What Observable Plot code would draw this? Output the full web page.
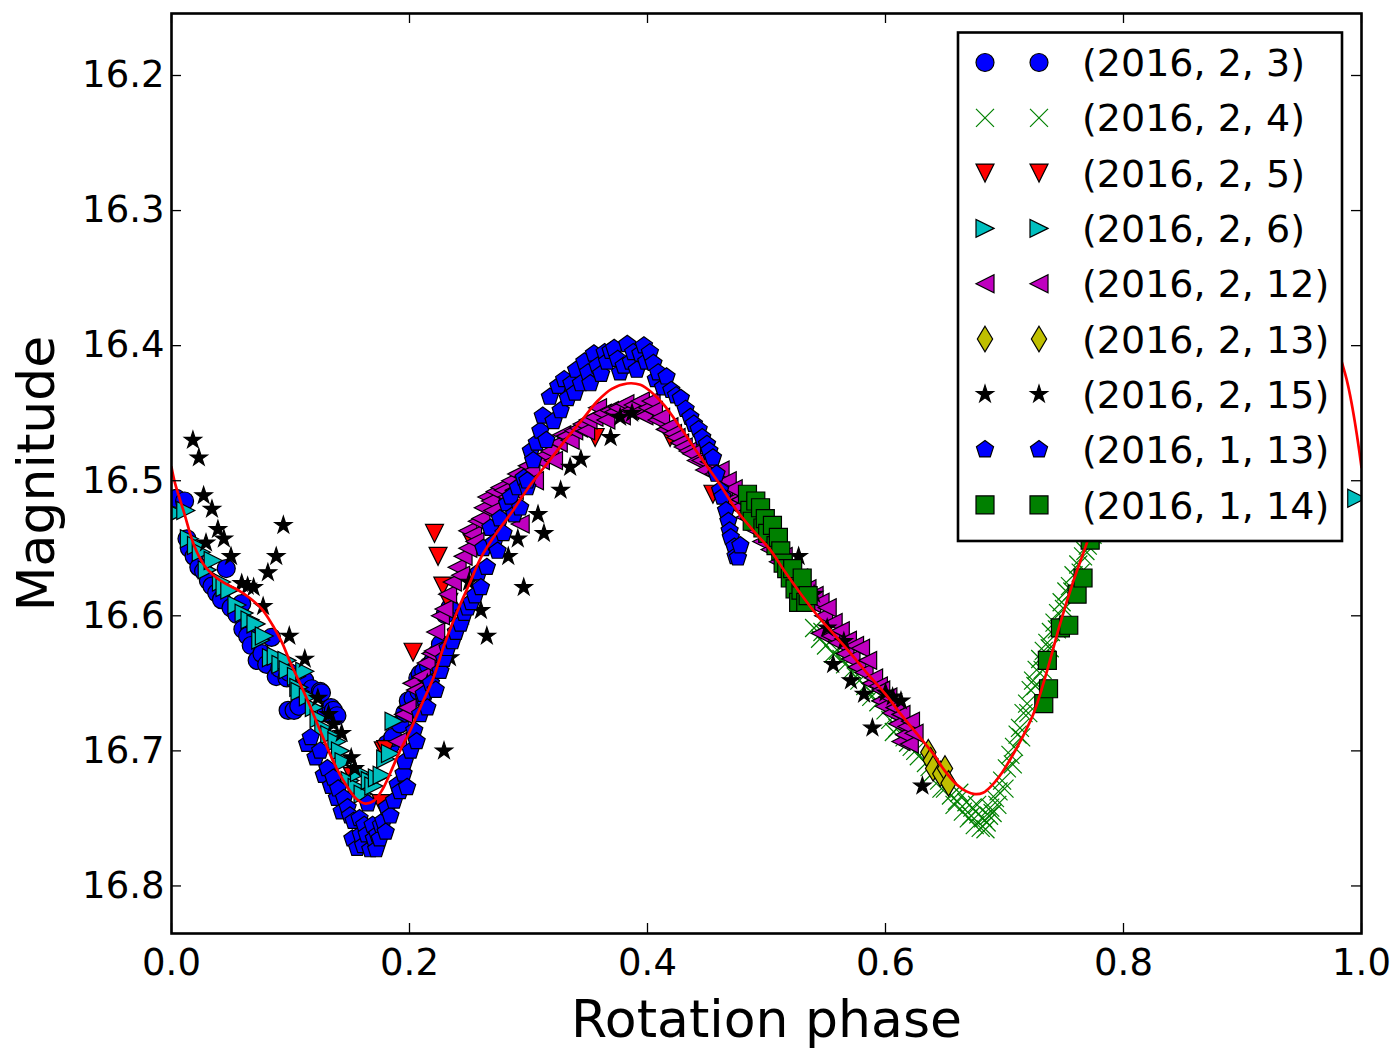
<!DOCTYPE html>
<html>
<head>
<meta charset="utf-8">
<script src="https://cdn.jsdelivr.net/npm/d3@7"></script>
<script src="https://cdn.jsdelivr.net/npm/@observablehq/plot@0.6"></script>
<style>
  html, body { margin: 0; padding: 0; background: white; }
  #chart { width: 1400px; height: 1049px; overflow: hidden; }
</style>
</head>
<body>
<div id="chart"></div>
<script>
// ---------------- data ----------------
const phaseTicks = [0.0, 0.2, 0.4, 0.6, 0.8, 1.0];
const magTicks = [16.2, 16.3, 16.4, 16.5, 16.6, 16.7, 16.8];
const xLabel = "Rotation phase";
const yLabel = "Magnitude";

const seriesLabels = ["(2016, 2, 3)", "(2016, 2, 4)", "(2016, 2, 5)", "(2016, 2, 6)", "(2016, 2, 12)",
  "(2016, 2, 13)", "(2016, 2, 15)", "(2016, 1, 13)", "(2016, 1, 14)"];

// (2016, 2, 3) blue circles  [phase, magnitude]
const feb03 = [[0.004,16.513],[0.011,16.515],[0.013,16.543],[0.015,16.550],[0.019,16.556],[0.023,16.564],[0.027,16.567],
  [0.031,16.574],[0.034,16.578],[0.038,16.583],[0.042,16.588],[0.046,16.565],[0.050,16.594],[0.055,16.599],[0.059,16.591],
  [0.060,16.610],[0.064,16.615],[0.067,16.622],[0.072,16.633],[0.076,16.628],[0.080,16.636],[0.084,16.616],[0.088,16.645],
  [0.091,16.639],[0.097,16.646],[0.099,16.642],[0.098,16.670],[0.103,16.670],[0.107,16.667],[0.112,16.648],[0.118,16.654],
  [0.125,16.656],[0.126,16.657],[0.130,16.672],[0.134,16.668],[0.136,16.670],[0.139,16.674],[0.181,16.695],[0.184,16.696],
  [0.186,16.690],[0.192,16.680],[0.196,16.672],[0.199,16.663],[0.203,16.661],[0.207,16.646],[0.208,16.656],[0.209,16.643],
  [0.212,16.641],[0.216,16.637],[0.220,16.633],[0.223,16.628],[0.226,16.621],[0.230,16.599],[0.234,16.594]];

// (2016, 2, 4) green crosses
const feb04 = [[0.540,16.609],[0.545,16.617],[0.547,16.612],[0.550,16.622],[0.556,16.628],[0.560,16.626],[0.563,16.632],
  [0.566,16.636],[0.572,16.640],[0.575,16.645],[0.578,16.648],[0.583,16.652],[0.588,16.660],[0.591,16.655],[0.594,16.664],
  [0.600,16.670],[0.604,16.677],[0.607,16.686],[0.610,16.683],[0.616,16.690],[0.619,16.694],[0.622,16.697],[0.625,16.700],
  [0.628,16.704],[0.634,16.709],[0.637,16.712],[0.640,16.716],[0.645,16.722],[0.647,16.728],[0.650,16.728],[0.655,16.733],
  [0.658,16.740],[0.660,16.737],[0.662,16.731],[0.665,16.745],[0.668,16.738],[0.670,16.750],[0.672,16.748],[0.673,16.742],
  [0.675,16.755],[0.677,16.740],[0.678,16.747],[0.680,16.757],[0.682,16.750],[0.684,16.758],[0.685,16.753],[0.687,16.748],
  [0.688,16.742],[0.690,16.746],[0.692,16.735],[0.694,16.740],[0.695,16.730],[0.698,16.722],[0.700,16.728],[0.702,16.713],
  [0.705,16.703],[0.707,16.710],[0.708,16.697],[0.711,16.688],[0.713,16.683],[0.714,16.690],[0.716,16.672],[0.719,16.665],
  [0.720,16.672],[0.722,16.655],[0.724,16.648],[0.726,16.652],[0.727,16.640],[0.730,16.632],[0.732,16.640],[0.733,16.626],
  [0.736,16.620],[0.738,16.624],[0.739,16.612],[0.742,16.605],[0.744,16.610],[0.745,16.598],[0.748,16.590],[0.750,16.595],
  [0.752,16.582],[0.755,16.578],[0.757,16.582],[0.758,16.570],[0.762,16.562],[0.764,16.568],[0.766,16.556],[0.768,16.552],
  [0.770,16.548],[0.774,16.540]];

// (2016, 2, 5) red down triangles
const feb05 = [[0.221,16.539],[0.224,16.556],[0.228,16.578],[0.233,16.590],[0.251,16.543],[0.203,16.627],
  [0.152,16.719],[0.176,16.739],[0.178,16.700],[0.180,16.699],[0.356,16.468],[0.419,16.468],[0.455,16.510]];

// (2016, 2, 6) cyan right triangles
const feb06 = [[0.004,16.524],[0.012,16.522],[0.015,16.543],[0.021,16.548],[0.025,16.553],[0.030,16.566],[0.035,16.559],
  [0.042,16.575],[0.045,16.579],[0.049,16.581],[0.055,16.592],[0.061,16.598],[0.066,16.603],[0.071,16.606],[0.075,16.618],
  [0.078,16.615],[0.084,16.631],[0.088,16.630],[0.092,16.636],[0.097,16.633],[0.098,16.640],[0.105,16.645],[0.107,16.653],
  [0.108,16.656],[0.112,16.641],[0.115,16.660],[0.120,16.668],[0.124,16.676],[0.128,16.683],[0.133,16.688],[0.139,16.693],
  [0.142,16.700],[0.145,16.708],[0.150,16.722],[0.156,16.727],[0.158,16.716],[0.161,16.732],[0.167,16.722],[0.170,16.726],
  [0.173,16.720],[0.177,16.718],[0.180,16.706],[0.184,16.702],[0.187,16.678],[0.996,16.513]];

// (2016, 2, 12) magenta left triangles
const feb12 = [[0.190,16.693],[0.195,16.673],[0.198,16.668],[0.202,16.650],[0.205,16.655],[0.210,16.645],[0.214,16.635],
  [0.218,16.628],[0.220,16.626],[0.222,16.612],[0.226,16.600],[0.229,16.595],[0.232,16.584],[0.236,16.575],[0.240,16.564],
  [0.243,16.570],[0.245,16.556],[0.249,16.550],[0.249,16.537],[0.253,16.540],[0.255,16.545],[0.257,16.530],[0.260,16.528],
  [0.262,16.520],[0.265,16.512],[0.268,16.515],[0.270,16.522],[0.272,16.508],[0.276,16.505],[0.279,16.507],[0.282,16.512],
  [0.285,16.500],[0.288,16.507],[0.290,16.495],[0.293,16.532],[0.296,16.497],[0.299,16.489],[0.302,16.493],[0.305,16.500],
  [0.310,16.485],[0.314,16.481],[0.318,16.478],[0.321,16.485],[0.325,16.472],[0.328,16.466],[0.331,16.467],[0.335,16.470],
  [0.338,16.463],[0.342,16.461],[0.345,16.458],[0.348,16.463],[0.350,16.455],[0.355,16.453],[0.358,16.446],[0.362,16.450],
  [0.365,16.455],[0.368,16.448],[0.372,16.449],[0.375,16.446],[0.378,16.452],[0.381,16.443],[0.385,16.448],[0.388,16.444],
  [0.392,16.449],[0.394,16.441],[0.397,16.452],[0.400,16.446],[0.403,16.441],[0.405,16.448],[0.408,16.455],[0.411,16.453],
  [0.415,16.462],[0.418,16.460],[0.421,16.465],[0.424,16.468],[0.427,16.472],[0.430,16.475],[0.434,16.478],[0.437,16.480],
  [0.441,16.485],[0.445,16.485],[0.448,16.492],[0.452,16.486],[0.456,16.495],[0.461,16.492],[0.464,16.505],[0.467,16.500],
  [0.470,16.515],[0.472,16.506],[0.476,16.520],[0.478,16.514],[0.482,16.527],[0.485,16.522],[0.489,16.536],[0.492,16.530],
  [0.496,16.545],[0.500,16.540],[0.503,16.551],[0.507,16.548],[0.510,16.560],[0.514,16.556],[0.517,16.566],[0.520,16.565],
  [0.524,16.578],[0.527,16.572],[0.531,16.585],[0.534,16.580],[0.538,16.591],[0.540,16.585],[0.545,16.590],[0.548,16.600],
  [0.551,16.594],[0.545,16.613],[0.554,16.615],[0.556,16.605],[0.560,16.620],[0.562,16.611],[0.566,16.628],[0.568,16.618],
  [0.571,16.632],[0.574,16.622],[0.576,16.638],[0.579,16.624],[0.582,16.642],[0.585,16.633],[0.588,16.650],[0.590,16.646],
  [0.594,16.652],[0.596,16.655],[0.596,16.663],[0.599,16.667],[0.602,16.660],[0.605,16.672],[0.608,16.668],[0.610,16.680],
  [0.613,16.673],[0.613,16.693],[0.616,16.688],[0.618,16.682],[0.620,16.695],[0.621,16.678],[0.624,16.687]];

// (2016, 2, 13) yellow thin diamonds
const feb13 = [[0.636,16.701],[0.638,16.707],[0.640,16.713],[0.646,16.717],[0.650,16.713],[0.653,16.724]];

// (2016, 2, 15) black stars
const feb15 = [[0.018,16.470],[0.023,16.483],[0.027,16.511],[0.034,16.521],[0.039,16.536],[0.044,16.543],
  [0.029,16.546],[0.050,16.556],[0.094,16.533],[0.088,16.556],[0.081,16.568],[0.059,16.576],[0.064,16.578],
  [0.069,16.579],[0.077,16.593],[0.099,16.615],[0.112,16.632],[0.123,16.661],[0.132,16.673],[0.136,16.680],
  [0.143,16.687],[0.151,16.705],[0.154,16.713],[0.229,16.700],[0.215,16.650],[0.234,16.631],[0.245,16.600],
  [0.250,16.575],[0.260,16.596],[0.265,16.615],[0.283,16.556],[0.291,16.543],[0.296,16.579],[0.308,16.525],
  [0.313,16.539],[0.327,16.507],[0.335,16.490],[0.344,16.484],[0.369,16.468],[0.377,16.453],[0.387,16.450],
  [0.527,16.556],[0.540,16.584],[0.551,16.609],[0.556,16.636],[0.565,16.619],[0.571,16.648],[0.582,16.658],
  [0.589,16.683],[0.600,16.657],[0.606,16.660],[0.613,16.663],[0.631,16.726]];

// (2016, 1, 13) blue pentagons
const jan13 = [[0.114,16.695],[0.117,16.690],[0.121,16.705],[0.125,16.700],[0.128,16.718],[0.131,16.713],[0.134,16.726],
  [0.136,16.720],[0.139,16.735],[0.140,16.728],[0.143,16.745],[0.145,16.735],[0.148,16.742],[0.150,16.748],[0.152,16.765],
  [0.153,16.752],[0.156,16.772],[0.158,16.750],[0.159,16.762],[0.161,16.770],[0.162,16.755],[0.164,16.762],[0.165,16.739],
  [0.167,16.773],[0.169,16.755],[0.170,16.765],[0.172,16.773],[0.173,16.762],[0.175,16.765],[0.176,16.755],[0.178,16.752],
  [0.180,16.760],[0.181,16.742],[0.184,16.748],[0.187,16.737],[0.190,16.725],[0.192,16.730],[0.195,16.717],[0.196,16.708],
  [0.198,16.727],[0.201,16.700],[0.204,16.685],[0.206,16.693],[0.209,16.673],[0.212,16.661],[0.212,16.658],[0.215,16.668],
  [0.218,16.650],[0.222,16.655],[0.226,16.641],[0.229,16.632],[0.232,16.624],[0.236,16.619],[0.239,16.612],[0.243,16.606],
  [0.246,16.598],[0.249,16.594],[0.252,16.590],[0.255,16.585],[0.258,16.568],[0.260,16.579],[0.262,16.550],[0.265,16.564],
  [0.268,16.535],[0.271,16.546],[0.274,16.552],[0.276,16.528],[0.279,16.539],[0.282,16.517],[0.285,16.512],[0.288,16.525],
  [0.291,16.505],[0.293,16.520],[0.296,16.498],[0.299,16.505],[0.299,16.500],[0.302,16.478],[0.304,16.485],[0.307,16.472],
  [0.310,16.463],[0.312,16.452],[0.315,16.470],[0.318,16.438],[0.321,16.456],[0.325,16.430],[0.327,16.448],[0.330,16.425],
  [0.333,16.439],[0.336,16.428],[0.339,16.435],[0.340,16.418],[0.344,16.428],[0.347,16.412],[0.350,16.420],[0.352,16.428],
  [0.355,16.406],[0.358,16.415],[0.361,16.421],[0.364,16.405],[0.366,16.412],[0.369,16.404],[0.372,16.402],[0.375,16.410],
  [0.377,16.420],[0.380,16.415],[0.383,16.399],[0.386,16.412],[0.388,16.405],[0.391,16.418],[0.394,16.406],[0.397,16.400],
  [0.399,16.412],[0.402,16.405],[0.405,16.413],[0.407,16.425],[0.409,16.420],[0.413,16.431],[0.416,16.423],[0.420,16.433],
  [0.424,16.437],[0.428,16.439],[0.432,16.447],[0.436,16.453],[0.439,16.458],[0.443,16.462],[0.446,16.468],[0.450,16.473],
  [0.452,16.478],[0.455,16.483],[0.458,16.495],[0.461,16.507],[0.463,16.512],[0.466,16.522],[0.468,16.530],[0.469,16.537],
  [0.470,16.542],[0.473,16.549],[0.474,16.556],[0.476,16.557],[0.478,16.548]];

// (2016, 1, 14) green squares
const jan14 = [[0.484,16.510],[0.486,16.522],[0.488,16.530],[0.491,16.515],[0.495,16.520],[0.497,16.535],[0.499,16.528],
  [0.501,16.539],[0.505,16.533],[0.508,16.548],[0.510,16.542],[0.512,16.552],[0.514,16.561],[0.517,16.565],[0.520,16.572],
  [0.522,16.565],[0.524,16.580],[0.527,16.590],[0.529,16.581],[0.530,16.572],[0.533,16.590],[0.535,16.585],[0.733,16.665],
  [0.736,16.633],[0.737,16.654],[0.747,16.609],[0.754,16.607],[0.761,16.584],[0.766,16.572],[0.772,16.544]];

// Fourier fit (red line) [phase, magnitude]
const fitCurve = [[0.000,16.490],[0.003,16.502],[0.010,16.522],[0.019,16.548],[0.027,16.562],[0.034,16.569],
  [0.045,16.576],[0.056,16.581],[0.066,16.587],[0.076,16.595],[0.085,16.607],[0.093,16.620],[0.100,16.635],
  [0.108,16.650],[0.116,16.666],[0.124,16.683],[0.132,16.700],[0.140,16.715],[0.148,16.727],[0.156,16.736],
  [0.163,16.739],[0.170,16.737],[0.177,16.729],[0.184,16.716],[0.192,16.700],[0.200,16.686],[0.210,16.666],
  [0.220,16.646],[0.229,16.622],[0.240,16.597],[0.250,16.577],[0.260,16.557],[0.272,16.540],[0.287,16.522],
  [0.300,16.505],[0.315,16.488],[0.330,16.471],[0.345,16.455],[0.358,16.441],[0.370,16.432],[0.383,16.428],
  [0.394,16.429],[0.404,16.435],[0.414,16.444],[0.428,16.461],[0.445,16.483],[0.461,16.503],[0.475,16.522],
  [0.490,16.538],[0.503,16.551],[0.516,16.568],[0.529,16.584],[0.543,16.600],[0.556,16.613],[0.570,16.627],
  [0.585,16.643],[0.600,16.658],[0.613,16.673],[0.627,16.688],[0.640,16.702],[0.650,16.715],[0.660,16.725],
  [0.668,16.730],[0.675,16.732],[0.682,16.731],[0.690,16.725],[0.698,16.716],[0.705,16.706],[0.715,16.690],
  [0.725,16.671],[0.736,16.640],[0.747,16.605],[0.758,16.574],[0.770,16.544],[0.780,16.515],[0.800,16.470],
  [0.830,16.420],[0.860,16.385],[0.900,16.365],[0.940,16.365],[0.970,16.385],[0.986,16.420],[1.000,16.490]];

// ---------------- marker shapes (matplotlib-like) ----------------
const mk = fn => ({draw(ctx, size) { const h = Math.sqrt(size / Math.PI); fn(ctx, h); }});
const poly = (ctx, pts) => { pts.forEach(([a, b], i) => i ? ctx.lineTo(a, b) : ctx.moveTo(a, b)); ctx.closePath(); };
const symCircle = mk((c, h) => { c.moveTo(h, 0); c.arc(0, 0, h, 0, 2 * Math.PI); c.closePath(); });
const symX = mk((c, h) => { c.moveTo(-h, -h); c.lineTo(h, h); c.moveTo(-h, h); c.lineTo(h, -h); });
const symTriDown = mk((c, h) => poly(c, [[0, h], [-h, -h], [h, -h]]));
const symTriRight = mk((c, h) => poly(c, [[h, 0], [-h, -h], [-h, h]]));
const symTriLeft = mk((c, h) => poly(c, [[-h, 0], [h, -h], [h, h]]));
const symThinDiamond = mk((c, h) => { const d = h * Math.SQRT2; poly(c, [[0, -d], [0.6 * d, 0], [0, d], [-0.6 * d, 0]]); });
const symStar = mk((c, h) => poly(c, d3.range(10).map(k => { const r = k % 2 ? 0.381966 * h : h, a = -Math.PI / 2 + k * Math.PI / 5; return [r * Math.cos(a), r * Math.sin(a)]; })));
const symPentagon = mk((c, h) => poly(c, d3.range(5).map(k => { const a = -Math.PI / 2 + k * 2 * Math.PI / 5; return [h * Math.cos(a), h * Math.sin(a)]; })));
const symSquare = mk((c, h) => poly(c, [[-h, -h], [h, -h], [h, h], [-h, h]]));

const seriesData = [feb03, feb04, feb05, feb06, feb12, feb13, feb15, jan13, jan14];
const seriesSymbols = [symCircle, symX, symTriDown, symTriRight, symTriLeft, symThinDiamond, symStar, symPentagon, symSquare];
const seriesFills = ["#0000ff", "none", "#ff0000", "#00bfbf", "#bf00bf", "#bfbf00", "#000000", "#0000ff", "#008000"];
const seriesStrokes = ["#000", "#008000", "#000", "#000", "#000", "#000", "#000", "#000", "#000"];

const R = 9;
const toRows = arr => arr.map(([phase, mag]) => ({phase, mag}));

const dotMarks = seriesData.map((arr, i) => Plot.dot(toRows(arr), {
  x: "phase", y: "mag", symbol: seriesSymbols[i], r: R,
  fill: seriesFills[i], stroke: seriesStrokes[i], strokeWidth: 1.2, clip: true
}));

const plot = Plot.plot({
  width: 1400, height: 1049,
  marginLeft: 171, marginRight: 39, marginTop: 13, marginBottom: 116,
  style: {fontFamily: "'DejaVu Sans', sans-serif", fontSize: "37px", background: "white", color: "black"},
  x: {domain: [0, 1]},
  y: {domain: [16.1541, 16.8352], reverse: true},
  marks: [
    ...dotMarks,
    Plot.line(toRows(fitCurve), {x: "phase", y: "mag", stroke: "#ff0000", strokeWidth: 2.7, curve: "catmull-rom", clip: true}),
    // inward tick marks on all four sides
    Plot.ruleX(phaseTicks, {x: d => d, insetTop: 910, stroke: "black", strokeWidth: 1.3}),
    Plot.ruleX(phaseTicks, {x: d => d, insetBottom: 910, stroke: "black", strokeWidth: 1.3}),
    Plot.ruleY(magTicks, {y: d => d, insetRight: 1180, stroke: "black", strokeWidth: 1.3}),
    Plot.ruleY(magTicks, {y: d => d, insetLeft: 1180, stroke: "black", strokeWidth: 1.3}),
    Plot.axisX({ticks: phaseTicks, tickSize: 0, tickPadding: 15, tickFormat: d3.format(".1f"), fontSize: 37, label: null}),
    Plot.axisY({ticks: magTicks, tickSize: 0, tickPadding: 7, tickFormat: d3.format(".1f"), fontSize: 37, label: null}),
    Plot.frame({stroke: "black", strokeWidth: 2.6}),
    Plot.text([xLabel], {text: d => d, frameAnchor: "bottom", textAnchor: "middle", dy: 103, fontSize: 52}),
    Plot.text([yLabel], {text: d => d, frameAnchor: "left", textAnchor: "middle", rotate: -90, dx: -134, fontSize: 52})
  ]
});

// ---------------- in-plot legend (matplotlib style, 2 markers per entry) ----------------
const svg = d3.select(plot);
const lg = svg.append("g").attr("class", "legend").attr("text-anchor", "start");
lg.append("rect").attr("x", 958).attr("y", 32.5).attr("width", 384).attr("height", 508.5)
  .attr("fill", "white").attr("stroke", "black").attr("stroke-width", 2.6);
seriesLabels.forEach((label, i) => {
  const cy = 62.5 + i * 55.3;
  [985, 1039].forEach(cx => {
    const p = d3.path();
    seriesSymbols[i].draw(p, Math.PI * R * R);
    lg.append("path").attr("d", p.toString()).attr("transform", `translate(${cx},${cy})`)
      .attr("fill", seriesFills[i]).attr("stroke", seriesStrokes[i]).attr("stroke-width", 1.2);
  });
  lg.append("text").attr("x", 1082).attr("y", cy).attr("dy", "0.36em").attr("text-anchor", "start")
    .attr("font-size", 38).attr("font-family", "'DejaVu Sans', sans-serif").attr("fill", "black").text(label);
});

document.getElementById("chart").appendChild(plot);
</script>
</body>
</html>
